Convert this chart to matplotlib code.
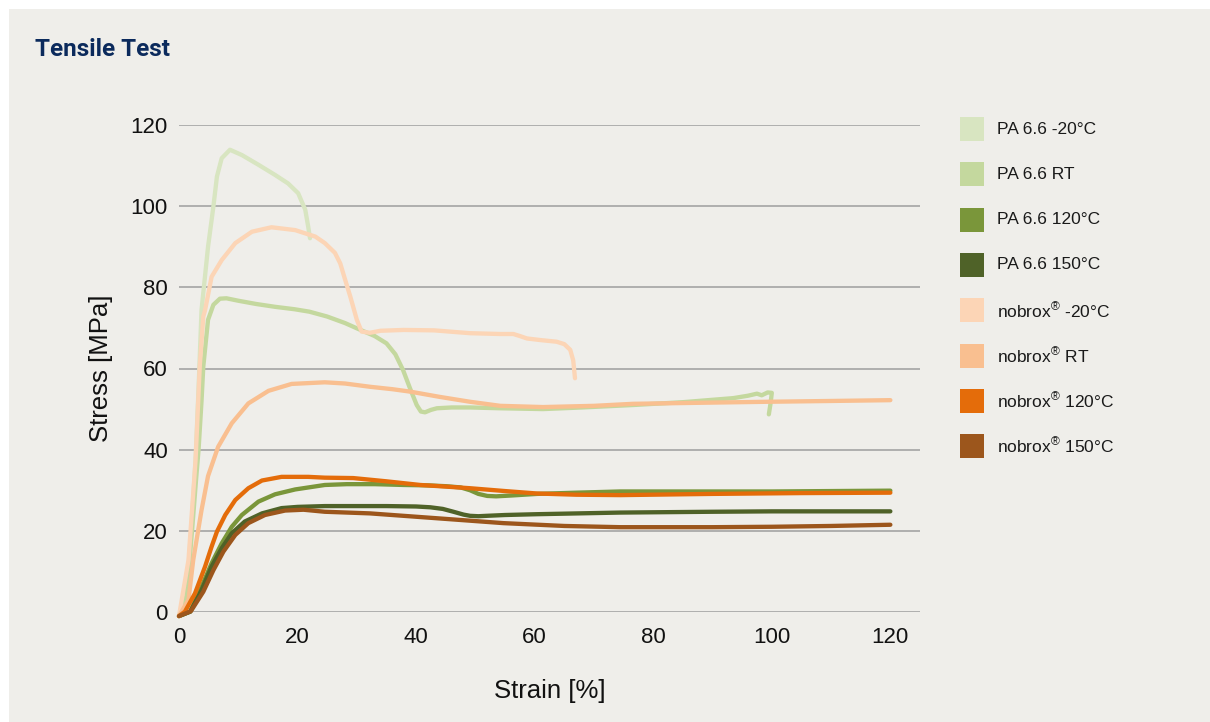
import matplotlib
matplotlib.use("Agg")
import matplotlib.pyplot as plt
from matplotlib.patches import Rectangle

plt.rcParams['font.family'] = ['Liberation Sans', 'DejaVu Sans']
plt.rcParams['mathtext.fontset'] = 'custom'
plt.rcParams['mathtext.rm'] = 'Liberation Sans'
plt.rcParams['mathtext.default'] = 'regular'

# ---------------- data ----------------
labels = ["PA 6.6 -20°C", "PA 6.6 RT", "PA 6.6 120°C", "PA 6.6 150°C",
          "nobrox$^{®}$ -20°C", "nobrox$^{®}$ RT", "nobrox$^{®}$ 120°C", "nobrox$^{®}$ 150°C"]
colors = ["#D8E5C1", "#C4D89E", "#7A963A", "#4F6228",
          "#FCD5B6", "#F9BF90", "#E46C0A", "#9C561C"]

pa_m20_x = [0, 1.3, 2.1, 2.8, 3.3, 3.8, 4.9, 5.8, 6.4, 7.2, 8.6, 10.6, 13.4, 16.2, 18.4,
            20.1, 21.3, 21.8, 22.1]
pa_m20_y = [-1, 4.6, 21, 37.5, 55, 74.4, 90, 99.9, 107.3, 111.8, 113.9, 112.6, 110.2, 107.7, 105.6,
            103.2, 99.1, 94.9, 92.1]

pa_rt_x = [0, 1.3, 2.2, 2.9, 3.3, 3.8, 4.1, 4.9, 5.8, 6.9, 8, 10, 13, 16.2, 19.5, 22, 25,
           28, 30, 33, 35, 36.5, 37.8, 39, 40.1, 40.8, 41.5, 42.5, 43.5, 46, 49.1, 54.2,
           61.4, 68, 76.6, 85, 93.5, 96, 97.5, 98.3, 99.3, 100, 99.8, 99.5]
pa_rt_y = [-1, 4, 20, 33, 40, 52, 60.5, 72, 75.7, 77.2, 77.3, 76.7, 75.9, 75.2, 74.6, 74, 72.8,
           71.2, 69.9, 68, 66.2, 63.5, 59.6, 55, 51, 49.4, 49.2, 49.8, 50.2, 50.4, 50.4, 50.2,
           50, 50.4, 51, 51.7, 52.7, 53.3, 53.8, 53.4, 54.1, 54, 51.5, 48.7]

pa_120_x = [0, 1.9, 3.8, 5.5, 7.2, 8.9, 10.6, 13.4, 16.2, 19.6, 24.6, 28.3, 33, 37.9, 42, 45,
            47.5, 49.1, 50.5, 52, 53.5, 56, 60.4, 67, 74.4, 85, 100, 110, 120]
pa_120_y = [-1, 0.1, 6.2, 12, 16.9, 21, 23.9, 27.2, 29, 30.2, 31.3, 31.5, 31.5, 31.3, 31.2, 31,
            30.7, 30, 29.1, 28.6, 28.5, 28.7, 29.1, 29.4, 29.7, 29.7, 29.7, 29.8, 29.9]

pa_150_x = [0, 1.9, 3.8, 5.5, 7.2, 8.9, 11.1, 14, 17.3, 20, 24.6, 29.4, 35, 40, 42.4, 44.5,
            46.3, 48, 49.1, 50.5, 51.9, 55, 60.4, 74.4, 90, 100, 110, 120]
pa_150_y = [-1, 0.1, 5.4, 11.2, 15.7, 19.4, 22.3, 24.3, 25.6, 25.9, 26.1, 26.1, 26.1, 26,
            25.8, 25.4, 24.7, 24, 23.7, 23.6, 23.7, 23.9, 24.1, 24.5, 24.7, 24.8, 24.8, 24.8]

nb_m20_x = [0, 1.6, 2.4, 2.8, 3.5, 4.1, 4.4, 5.5, 7.2, 9.5, 12.3, 15.6, 19.6, 23, 24.6,
            26.3, 27.2, 28, 28.9, 30, 30.8, 32.2, 34, 37.9, 43, 49.1, 54.2, 56.4, 57.5,
            58.7, 61, 63.7, 65, 66, 66.5, 66.8]
nb_m20_y = [-1, 12.8, 29.2, 37.5, 60.5, 72.8, 74.4, 82.6, 86.7, 90.9, 93.7, 94.8, 94.1, 92.5, 90.9,
            88.5, 85.9, 82, 77.7, 72, 69.1, 68.8, 69.3, 69.5, 69.4, 68.7, 68.5, 68.5, 68,
            67.4, 67, 66.6, 66, 64.6, 62, 57.6]

nb_rt_x = [0, 1.6, 2.4, 3.8, 4.9, 6.6, 8.9, 11.7, 15.1, 19, 24.6, 28, 32.2, 36, 39, 44,
           49.1, 54.2, 61.4, 70, 76.6, 90, 99.2, 110, 120]
nb_rt_y = [-1, 3, 12.8, 25.1, 33.5, 40.7, 46.5, 51.4, 54.5, 56.2, 56.6, 56.3, 55.5, 54.9,
           54.3, 53, 51.8, 50.8, 50.5, 50.8, 51.3, 51.6, 51.8, 52, 52.2]

nb_120_x = [0, 1.0, 2.7, 4.4, 5.5, 6.4, 7.8, 9.5, 11.7, 14, 17.3, 21.8, 24.6, 29.4, 35, 40.7,
            45, 49.1, 55, 60.4, 67, 74.4, 90, 105, 120]
nb_120_y = [-1, 0.1, 4.6, 11.2, 16.1, 19.8, 23.9, 27.6, 30.5, 32.4, 33.3, 33.3, 33.1, 33, 32.2,
            31.3, 30.9, 30.5, 29.8, 29.2, 28.9, 28.8, 29.1, 29.3, 29.4]

nb_150_x = [0, 2, 4.1, 5.8, 7.5, 9.5, 11.7, 14.5, 17.9, 21, 24.6, 32.2, 43.5, 54.7, 65, 74.4,
            90, 100, 110, 120]
nb_150_y = [-1, 0.2, 5, 10.3, 14.9, 19, 21.9, 23.9, 25, 25.2, 24.7, 24.3, 23.1, 21.9, 21.2,
            20.9, 20.9, 21, 21.2, 21.5]

series_x = [pa_m20_x, pa_rt_x, pa_120_x, pa_150_x, nb_m20_x, nb_rt_x, nb_120_x, nb_150_x]
series_y = [pa_m20_y, pa_rt_y, pa_120_y, pa_150_y, nb_m20_y, nb_rt_y, nb_120_y, nb_150_y]

x_ticks = [0, 20, 40, 60, 80, 100, 120]
y_ticks = [0, 20, 40, 60, 80, 100, 120]

# ---------------- figure ----------------
W, H = 1210, 722
fig = plt.figure(figsize=(W / 100, H / 100), dpi=100, facecolor="white")
bg = "#EFEEEA"
fig.patches.append(Rectangle((9 / W, 0), 1 - 9 / W, 1 - 9 / H, transform=fig.transFigure,
                             facecolor=bg, edgecolor="none", zorder=-10))

ax = fig.add_axes([179 / W, (H - 612) / H, 741 / W, 487 / H])
ax.set_zorder(5)
ax.set_facecolor("none")
ax.set_xlim(0, 125)
ax.set_ylim(0, 120)
for s in ax.spines.values():
    s.set_visible(False)
ax.set_yticks(y_ticks)
ax.set_xticks(x_ticks)
ax.tick_params(axis="both", length=0, labelsize=16, colors="#111111")
ax.tick_params(axis="x", pad=11)
ax.tick_params(axis="y", pad=8)
ax.yaxis.grid(True, color="#9E9E9E", linewidth=1.1)
ax.set_axisbelow(True)

for xs, ys, c in zip(series_x, series_y, colors):
    ax.plot(xs, ys, color=c, linewidth=3.1, solid_capstyle="round",
            solid_joinstyle="round", clip_on=False, zorder=3)

ax.set_xlabel("Strain [%]", fontsize=18.5, labelpad=22, color="#111111")
ax.set_ylabel("Stress [MPa]", fontsize=18.5, labelpad=13, color="#111111")

fig.text(35 / W, 1 - 56 / H, "Tensile Test", fontsize=17.5, fontweight="bold",
         family=["Roboto", "DejaVu Sans"], color="#0B2A5C", va="baseline", ha="left")

# legend (manual)
for i, (lab, c) in enumerate(zip(labels, colors)):
    cy = 129 + i * 45.3
    fig.patches.append(Rectangle((960 / W, 1 - (cy + 12) / H), 24 / W, 24 / H,
                                 transform=fig.transFigure, facecolor=c,
                                 edgecolor="none", zorder=2))
    fig.text(997 / W, 1 - cy / H, lab, fontsize=12.5, color="#1A1A1A",
             va="center", ha="left")

fig.savefig("out.png", dpi=100, facecolor="white")
